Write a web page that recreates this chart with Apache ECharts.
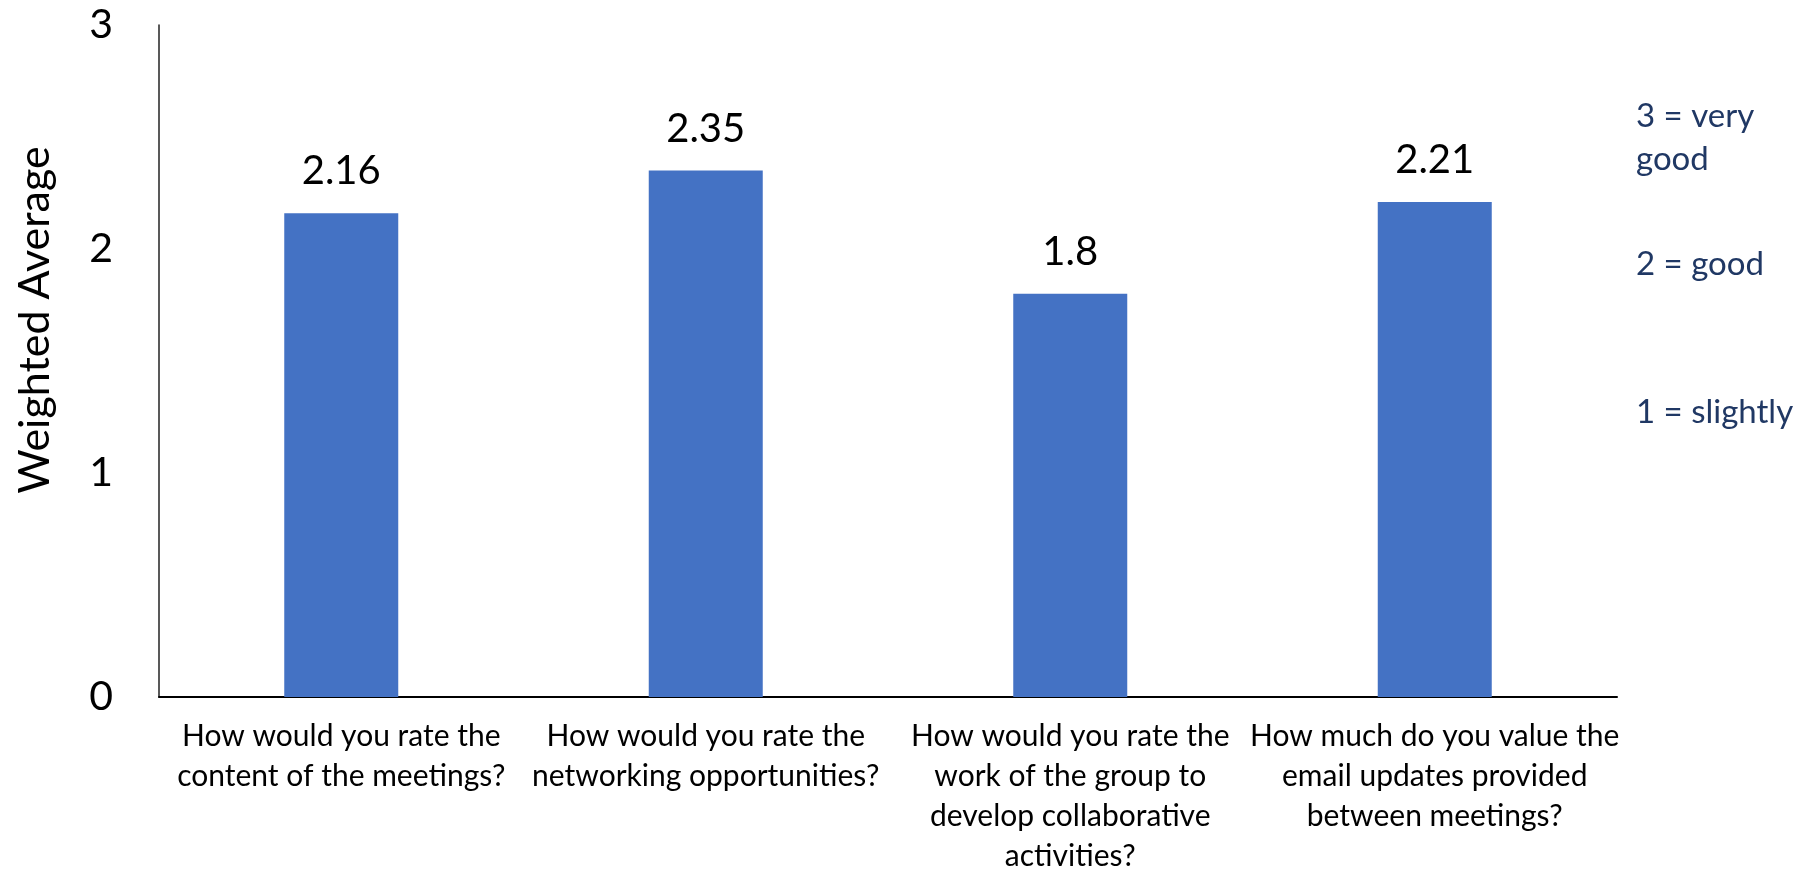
<!DOCTYPE html>
<html>
<head>
<meta charset="utf-8">
<script src="https://cdn.jsdelivr.net/npm/echarts@6/dist/echarts.min.js"></script>
<style>
html,body{margin:0;padding:0;background:#fff;}
#chart{width:1808px;height:869px;}
</style>
</head>
<body>
<div id="chart"></div>
<script>
const categories = [
  "How would you rate the\ncontent of the meetings?",
  "How would you rate the\nnetworking opportunities?",
  "How would you rate the\nwork of the group to\ndevelop collaborative\nactivities?",
  "How much do you value the\nemail updates provided\nbetween meetings?"
];
const values = [2.16, 2.35, 1.8, 2.21];
const yTicks = [0, 1, 2, 3];
const yAxisTitle = "Weighted Average";
const scaleNotes = ["3 = very\ngood", "2 = good", "1 = slightly"];

const FONT = "Lato, 'Open Sans', sans-serif";
const chart = echarts.init(document.getElementById('chart'));
chart.setOption({
  backgroundColor: '#fff',
  animation: false,
  grid: { left: 159, right: 191, top: 25, bottom: 172, containLabel: false, outerBoundsMode: 'none' },
  xAxis: {
    type: 'category',
    data: categories,
    axisLine: { show: true, lineStyle: { color: '#000', width: 2 } },
    axisTick: { show: false },
    axisLabel: { interval: 0, color: '#000', fontFamily: FONT, fontSize: 30, lineHeight: 40, margin: 19, verticalAlign: 'top' }
  },
  yAxis: {
    type: 'value',
    min: yTicks[0], max: yTicks[yTicks.length - 1], interval: 1,
    splitLine: { show: false },
    axisLine: { show: true, lineStyle: { color: '#222', width: 1.5 } },
    axisTick: { show: false },
    axisLabel: { color: '#000', fontFamily: FONT, fontSize: 41, margin: 46 }
  },
  series: [{
    type: 'bar',
    data: values,
    barWidth: 114,
    itemStyle: { color: '#4472C4' },
    label: { show: true, position: 'top', distance: 22, color: '#000', fontFamily: FONT, fontSize: 40 }
  }],
  graphic: [
    { type: 'text', x: 35, y: 320, rotation: Math.PI / 2,
      style: { text: yAxisTitle, fontFamily: FONT, fontSize: 43, fill: '#000', align: 'center', verticalAlign: 'middle' } },
    { type: 'text', x: 1636, y: 95,
      style: { text: scaleNotes[0], fontFamily: FONT, fontSize: 33, lineHeight: 43, fill: '#203864', align: 'left', verticalAlign: 'top' } },
    { type: 'text', x: 1636, y: 264,
      style: { text: scaleNotes[1], fontFamily: FONT, fontSize: 33, fill: '#203864', align: 'left', verticalAlign: 'middle' } },
    { type: 'text', x: 1636, y: 412,
      style: { text: scaleNotes[2], fontFamily: FONT, fontSize: 33, fill: '#203864', align: 'left', verticalAlign: 'middle' } }
  ]
});
</script>
</body>
</html>
